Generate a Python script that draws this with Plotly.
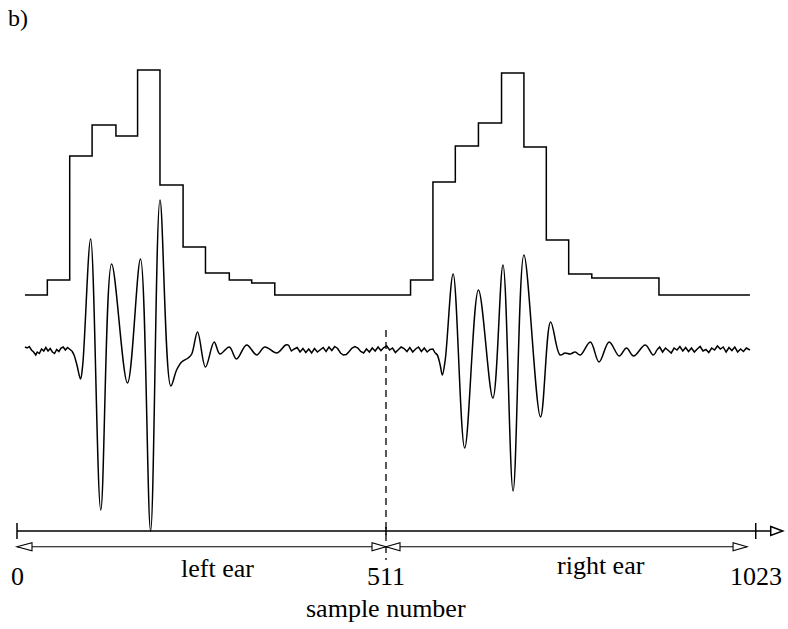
import plotly.graph_objects as go

# ---------------- data ----------------
# Block envelope: block edges (sample index) and the height of each block
STEP_EDGES = [11, 42, 73, 104, 137, 167, 198, 230, 261, 294, 325, 357,
              545, 576, 607, 639, 671, 702, 733, 764, 796, 889, 1015]
STEP_LEVELS = [0.00, 0.15, 1.39, 1.70, 1.59, 2.25, 1.10, 0.48, 0.22, 0.15, 0.12, 0.00,
               0.15, 1.13, 1.49, 1.72, 2.22, 1.48, 0.55, 0.21, 0.17, 0.00]
STEP_OFFSET = 0.55  # envelope is drawn above the signal

# Signal, in segments (sample index, amplitude)
PRE_X = [11, 14, 17, 20, 23, 26, 28, 31, 34, 37, 40, 43, 46, 49, 52, 55, 58, 61, 64, 67, 70, 73, 76]
PRE_Y = [0.03, 0.02, 0.035, 0.00, -0.02, -0.05, -0.02, -0.035, 0.01, -0.01, 0.025, -0.01,
         0.015, -0.02, -0.035, 0.005, -0.015, 0.02, 0.03, 0.00, 0.025, 0.005, -0.01]

LEFT_X = [79, 83, 88, 91, 102, 116, 131, 153, 171, 185, 198, 213, 221, 228, 237, 242,
          250, 261, 273, 281, 294, 304, 318, 332, 343, 360, 372]
LEFT_Y = [-0.05, -0.15, -0.29, -0.15, 1.11, -1.60, 0.86, -0.33, 0.91, -1.81, 1.50, -0.36,
          -0.20, -0.12, -0.08, -0.04, 0.18, -0.17, 0.08, -0.04, 0.03, -0.09, 0.05, -0.05,
          0.03, -0.03, 0.05]

GAP_X = [376, 380, 384, 388, 392, 396, 400, 404, 408, 412, 416, 420, 424, 428, 432, 436,
         440, 444, 448, 452, 456, 460, 464, 468, 472, 476, 480, 484, 488, 492, 496, 500,
         504, 508, 512, 516, 520, 524, 528, 532, 536, 540, 544, 548, 552, 556, 560, 564,
         568, 572, 576, 579]
GAP_Y = [0.05, -0.01, 0.01, 0.025, -0.02, 0.015, -0.025, 0.01, -0.03, 0.015, -0.02, 0.005,
         0.025, -0.015, 0.03, -0.005, 0.035, 0.015, -0.03, -0.05, -0.045, -0.015, 0.02, 0.035,
         0.02, -0.015, -0.03, 0.01, -0.02, 0.02, -0.01, 0.03, -0.005, 0.025, 0.04, 0.00,
         0.02, -0.025, 0.005, 0.03, 0.015, -0.015, 0.025, -0.02, 0.01, 0.03, -0.015, 0.02,
         -0.02, 0.005, 0.01, -0.03]

RIGHT_X = [582, 586, 589, 593, 604, 620, 639, 659, 673, 687, 702, 725, 739, 752, 759, 766,
           773, 780, 794, 806, 820, 834, 844, 854, 870, 881]
RIGHT_Y = [-0.05, -0.15, -0.25, -0.10, 0.76, -0.98, 0.60, -0.48, 0.85, -1.41, 0.95, -0.67,
           0.28, -0.05, -0.03, -0.04, -0.02, -0.05, 0.08, -0.12, 0.08, -0.06, 0.02, -0.06,
           0.05, -0.05]

TAIL_X = [886, 890, 894, 898, 902, 906, 910, 914, 918, 922, 926, 930, 934, 938, 942, 946,
          950, 954, 958, 962, 966, 970, 974, 978, 982, 986, 990, 994, 998, 1002, 1006, 1010, 1015]
TAIL_Y = [0.00, 0.03, -0.02, 0.02, -0.005, -0.03, 0.02, 0.00, 0.035, -0.01, 0.025, -0.015,
          0.02, -0.02, 0.01, 0.035, -0.01, 0.005, -0.025, 0.02, 0.00, 0.04, 0.01, 0.03,
          -0.02, 0.025, -0.005, 0.03, -0.02, 0.01, -0.015, 0.02, 0.00]

# Sample axis
TICK_SAMPLES = [0, 511, 1023]
TICK_LABELS = ["0", "511", "1023"]
EAR_LABELS = ["left ear", "right ear"]
EAR_LABEL_X = [278, 809]
SPLIT = 511
RIGHT_EAR_END = 1011
AXIS_TITLE = "sample number"
PANEL_LABEL = "b)"

# ---------------- layout constants ----------------
W, H = 788, 629
X_RANGE = [-23.54, 1067.7]
Y_RANGE = [-2.79, 3.5]
AXIS_Y = -1.81
EAR_Y = -1.967
TICK_LABEL_Y = -2.26
INK = "black"
LW = 1.5
FONT = "Liberation Serif"

fig = go.Figure()


def add_line(xs, ys, shape):
    fig.add_trace(go.Scatter(
        x=xs, y=ys, mode="lines",
        line=dict(color=INK, width=LW, shape=shape, smoothing=1.0),
        hoverinfo="skip", showlegend=False))


# block envelope
add_line(STEP_EDGES, [STEP_OFFSET + v for v in STEP_LEVELS + STEP_LEVELS[-1:]], "hv")

# signal: noisy stretches drawn straight, the responses smoothed;
# neighbouring segments share their end points so the trace is continuous
add_line(PRE_X, PRE_Y, "linear")
add_line(PRE_X[-1:] + LEFT_X + GAP_X[:1], PRE_Y[-1:] + LEFT_Y + GAP_Y[:1], "spline")
add_line(GAP_X, GAP_Y, "linear")
add_line(GAP_X[-1:] + RIGHT_X + TAIL_X[:1], GAP_Y[-1:] + RIGHT_Y + TAIL_Y[:1], "spline")
add_line(TAIL_X, TAIL_Y, "linear")

shapes = []
# horizontal sample axis
shapes.append(dict(type="line", xref="x", yref="y", x0=TICK_SAMPLES[0], x1=TICK_SAMPLES[-1],
                   y0=AXIS_Y, y1=AXIS_Y, line=dict(color=INK, width=LW)))
# end ticks and the middle tick
for s in TICK_SAMPLES:
    half = 4 if s == SPLIT else 8
    shapes.append(dict(type="line", xref="x", yref="y", x0=s, x1=s,
                       ysizemode="pixel", yanchor=AXIS_Y, y0=-half, y1=half,
                       line=dict(color=INK, width=LW)))
# axis continuation with open arrow head
shapes.append(dict(type="path", xref="x", yref="y", xsizemode="pixel", ysizemode="pixel",
                   xanchor=TICK_SAMPLES[-1], yanchor=AXIS_Y,
                   path="M0,0 L15,0 M15,4.5 L27,0 L15,-4.5 Z",
                   fillcolor="white", line=dict(color=INK, width=LW)))
# dashed split between ears
shapes.append(dict(type="line", xref="x", yref="y", x0=SPLIT, x1=SPLIT, y0=0.2, y1=-2.1,
                   line=dict(color=INK, width=1.3, dash="7px,5px")))
# ear ranges
for a, b in [(TICK_SAMPLES[0], SPLIT), (SPLIT, RIGHT_EAR_END)]:
    shapes.append(dict(type="line", xref="x", yref="y", x0=a, x1=b, y0=EAR_Y, y1=EAR_Y,
                       line=dict(color=INK, width=1.1)))
heads = [(TICK_SAMPLES[0], "M0,0 L15,4 L15,-4 Z"),
         (SPLIT, "M0,0 L-14,4 L-14,-4 Z"),
         (SPLIT, "M0,0 L14,4 L14,-4 Z"),
         (RIGHT_EAR_END, "M0,0 L-14,4 L-14,-4 Z")]
for s, p in heads:
    shapes.append(dict(type="path", xref="x", yref="y", xsizemode="pixel", ysizemode="pixel",
                       xanchor=s, yanchor=EAR_Y, path=p, fillcolor="white",
                       line=dict(color=INK, width=1.1)))

annotations = []
for s, t in zip(TICK_SAMPLES, TICK_LABELS):
    annotations.append(dict(x=s, y=TICK_LABEL_Y, xref="x", yref="y", text=t,
                            showarrow=False, xanchor="center", yanchor="middle",
                            font=dict(family=FONT, size=26, color=INK)))
for s, t, yy in zip(EAR_LABEL_X, EAR_LABELS, [-2.18, -2.15]):
    annotations.append(dict(x=s, y=yy, xref="x", yref="y", text=t,
                            showarrow=False, xanchor="center", yanchor="middle",
                            font=dict(family=FONT, size=26, color=INK)))
annotations.append(dict(x=SPLIT, y=-2.58, xref="x", yref="y", text=AXIS_TITLE,
                        showarrow=False, xanchor="center", yanchor="middle",
                        font=dict(family=FONT, size=26, color=INK)))
annotations.append(dict(x=6 / W, y=1 - 18 / H, xref="paper", yref="paper", text=PANEL_LABEL,
                        showarrow=False, xanchor="left", yanchor="middle",
                        font=dict(family=FONT, size=24, color=INK)))

fig.update_layout(
    width=W, height=H, margin=dict(l=0, r=0, t=0, b=0),
    paper_bgcolor="white", plot_bgcolor="white",
    xaxis=dict(range=X_RANGE, visible=False, fixedrange=True),
    yaxis=dict(range=Y_RANGE, visible=False, fixedrange=True),
    shapes=shapes, annotations=annotations, showlegend=False)

fig.write_html("out.html")
